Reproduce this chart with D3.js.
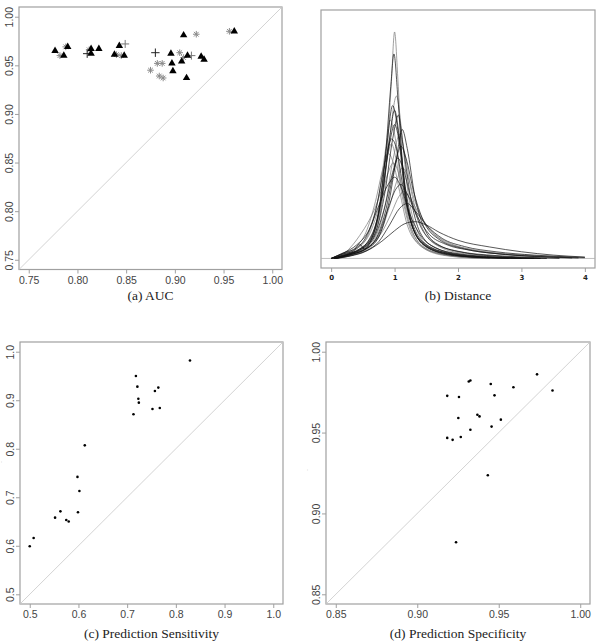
<!DOCTYPE html>
<html>
<head>
<meta charset="utf-8">
<script src="https://cdn.jsdelivr.net/npm/d3@7"></script>
<style>
body { margin: 0; background: #fff; }
</style>
</head>
<body>
<div id="chart"></div>
<script>

// (a) AUC
const aucTriX = [0.777, 0.786, 0.790, 0.814, 0.814, 0.822, 0.843, 0.838, 0.848, 0.909, 0.896, 0.897, 0.898, 0.907, 0.913, 0.912, 0.927, 0.930, 0.961];
const aucTriY = [0.965, 0.960, 0.969, 0.967, 0.962, 0.967, 0.970, 0.961, 0.960, 0.981, 0.962, 0.952, 0.944, 0.954, 0.960, 0.937, 0.959, 0.956, 0.985];
const aucAstX = [0.782, 0.788, 0.812, 0.840, 0.845, 0.875, 0.882, 0.887, 0.884, 0.888, 0.905, 0.909, 0.922, 0.956];
const aucAstY = [0.960, 0.969, 0.966, 0.961, 0.960, 0.945, 0.952, 0.952, 0.939, 0.937, 0.963, 0.958, 0.982, 0.985];
const aucCrossBlackX = [0.810, 0.880];
const aucCrossBlackY = [0.962, 0.963];
const aucCrossGrayX = [0.849, 0.917];
const aucCrossGrayY = [0.972, 0.960];
const aucTicks = [0.75, 0.80, 0.85, 0.90, 0.95, 1.00];

// (b) Distance: density curves, [distance, density] knots
const distBlack = [
  [[0.02,0],[0.2,0.06],[0.4,0.15],[0.6,0.35],[0.75,0.95],[0.86,2.2],[0.94,3.6],[0.99,4.28],[1.05,3.4],[1.13,1.9],[1.25,0.8],[1.45,0.3],[1.8,0.1],[2.4,0.02],[3.2,0]],
  [[0,0],[0.2,0.07],[0.4,0.16],[0.6,0.4],[0.75,1.0],[0.88,2.4],[0.97,3.2],[1.05,2.7],[1.15,1.5],[1.3,0.6],[1.55,0.2],[2.0,0.05],[2.8,0]],
  [[0.05,0],[0.3,0.1],[0.5,0.22],[0.7,0.55],[0.85,1.4],[0.97,2.5],[1.06,3.0],[1.13,2.4],[1.25,1.3],[1.4,0.55],[1.65,0.22],[2.1,0.07],[2.8,0.01],[3.4,0]],
  [[0.03,0],[0.25,0.1],[0.45,0.2],[0.65,0.5],[0.8,1.3],[0.92,2.4],[1.0,2.8],[1.08,2.4],[1.18,1.4],[1.32,0.6],[1.55,0.25],[2.0,0.08],[2.6,0.02],[3.3,0]],
  [[0,0],[0.2,0.12],[0.4,0.22],[0.55,0.45],[0.7,1.0],[0.85,2.0],[0.95,2.5],[1.03,2.3],[1.12,1.6],[1.25,0.8],[1.45,0.32],[1.8,0.12],[2.3,0.03],[3.0,0]],
  [[0.08,0],[0.3,0.08],[0.5,0.17],[0.7,0.4],[0.85,0.95],[1.0,1.9],[1.1,2.35],[1.18,2.1],[1.3,1.4],[1.45,0.8],[1.7,0.4],[2.1,0.2],[2.6,0.1],[3.2,0.04],[3.8,0.01]],
  [[0.05,0],[0.3,0.1],[0.5,0.2],[0.7,0.5],[0.85,1.1],[0.97,1.8],[1.05,2.1],[1.13,1.9],[1.25,1.3],[1.4,0.7],[1.6,0.35],[2.0,0.15],[2.6,0.06],[3.2,0.02],[3.6,0]],
  [[0,0],[0.2,0.12],[0.4,0.28],[0.6,0.6],[0.75,1.1],[0.9,1.55],[1.0,1.7],[1.1,1.5],[1.22,1.0],[1.4,0.5],[1.65,0.22],[2.0,0.1],[2.6,0.03],[3.2,0]],
  [[0.05,0],[0.3,0.05],[0.55,0.15],[0.8,0.36],[1.0,0.58],[1.15,0.72],[1.32,0.77],[1.5,0.7],[1.7,0.55],[2.0,0.38],[2.5,0.24],[3.0,0.14],[3.5,0.07],[4.0,0.03]],
  [[0.05,0],[0.3,0.06],[0.55,0.16],[0.75,0.35],[0.92,0.7],[1.08,1.05],[1.2,1.15],[1.32,1.0],[1.5,0.7],[1.75,0.42],[2.1,0.25],[2.6,0.14],[3.2,0.07],[3.8,0.03],[4.0,0.02]],
  [[0,0],[0.2,0.1],[0.35,0.15],[0.45,0.3],[0.52,0.2],[0.65,0.45],[0.8,1.3],[0.92,2.5],[1.0,3.1],[1.07,2.6],[1.17,1.4],[1.3,0.6],[1.5,0.25],[1.9,0.08],[2.5,0.01]],
  [[0.08,0],[0.35,0.1],[0.55,0.2],[0.75,0.45],[0.9,1.1],[1.03,2.1],[1.12,2.7],[1.2,2.3],[1.32,1.3],[1.48,0.6],[1.7,0.28],[2.1,0.12],[2.7,0.04],[3.3,0]],
  [[0.05,0],[0.3,0.08],[0.55,0.2],[0.75,0.5],[0.9,1.05],[1.02,1.45],[1.1,1.55],[1.2,1.35],[1.35,0.9],[1.55,0.5],[1.8,0.3],[2.2,0.17],[2.7,0.09],[3.3,0.04],[3.9,0.01]]
];
const distGray = [
  [[0,0],[0.2,0.05],[0.4,0.12],[0.6,0.3],[0.75,0.8],[0.87,2.0],[0.95,3.7],[1.0,4.74],[1.05,3.8],[1.12,2.0],[1.25,0.7],[1.45,0.25],[1.8,0.08],[2.4,0.01],[3.0,0]],
  [[0.05,0],[0.25,0.08],[0.45,0.18],[0.65,0.45],[0.8,1.2],[0.92,2.5],[1.03,3.4],[1.1,2.8],[1.2,1.5],[1.35,0.6],[1.6,0.2],[2.0,0.06],[2.6,0.01],[3.2,0]],
  [[0,0],[0.2,0.1],[0.4,0.2],[0.6,0.55],[0.75,1.3],[0.86,2.3],[0.93,2.9],[1.0,2.6],[1.1,1.6],[1.25,0.65],[1.5,0.2],[1.9,0.05],[2.5,0]],
  [[0.05,0],[0.3,0.08],[0.5,0.18],[0.7,0.45],[0.85,1.1],[0.98,2.1],[1.08,2.6],[1.16,2.2],[1.28,1.3],[1.45,0.6],[1.7,0.25],[2.1,0.1],[2.7,0.03],[3.4,0]],
  [[0,0],[0.2,0.1],[0.4,0.25],[0.55,0.55],[0.7,1.2],[0.82,1.9],[0.9,2.2],[0.98,2.0],[1.08,1.4],[1.2,0.7],[1.4,0.28],[1.7,0.1],[2.2,0.02],[2.8,0]],
  [[0.1,0],[0.35,0.08],[0.55,0.18],[0.75,0.45],[0.9,1.0],[1.03,1.6],[1.12,1.9],[1.2,1.75],[1.32,1.2],[1.5,0.7],[1.75,0.38],[2.1,0.22],[2.6,0.12],[3.2,0.06],[3.9,0.02]],
  [[0.1,0],[0.4,0.1],[0.6,0.25],[0.8,0.55],[0.95,0.95],[1.07,1.3],[1.15,1.4],[1.25,1.25],[1.4,0.9],[1.6,0.55],[1.9,0.3],[2.3,0.16],[2.9,0.07],[3.5,0.03],[4.0,0.01]],
  [[0,0],[0.2,0.1],[0.35,0.3],[0.45,0.48],[0.6,0.8],[0.72,1.15],[0.82,1.6],[0.9,2.2],[0.95,2.4],[1.02,2.1],[1.12,1.3],[1.25,0.6],[1.45,0.22],[1.8,0.06],[2.4,0]],
  [[0,0],[0.25,0.12],[0.45,0.25],[0.62,0.55],[0.78,1.2],[0.9,1.8],[0.98,2.0],[1.06,1.8],[1.16,1.2],[1.3,0.6],[1.5,0.26],[1.85,0.1],[2.4,0.03],[3.0,0]]
];
const distTicks = [0, 1, 2, 3, 4];

// (c) Prediction Sensitivity
const sensX = [0.829, 0.718, 0.721, 0.723, 0.724, 0.713, 0.757, 0.764, 0.752, 0.767, 0.613, 0.598, 0.602, 0.599, 0.563, 0.552, 0.575, 0.580, 0.508, 0.500];
const sensY = [0.982, 0.950, 0.928, 0.903, 0.895, 0.871, 0.919, 0.926, 0.882, 0.884, 0.807, 0.742, 0.713, 0.669, 0.671, 0.658, 0.653, 0.650, 0.616, 0.599];
const sensTicks = [0.5, 0.6, 0.7, 0.8, 0.9, 1.0];

// (d) Prediction Specificity
const specX = [0.9735, 0.983, 0.9316, 0.9326, 0.9451, 0.959, 0.9474, 0.9184, 0.9256, 0.9252, 0.9369, 0.9382, 0.9513, 0.9456, 0.9326, 0.9267, 0.9184, 0.9217, 0.9433, 0.9238];
const specY = [0.986, 0.976, 0.9816, 0.9822, 0.980, 0.978, 0.973, 0.9727, 0.972, 0.959, 0.961, 0.960, 0.958, 0.9537, 0.9517, 0.9473, 0.9467, 0.9455, 0.9236, 0.8822];
const specTicks = [0.85, 0.90, 0.95, 1.00];

const width = 597;
const height = 643;
const boxColor = "#a0a0a0";
const sansFont = "'Liberation Sans', Arial, sans-serif";
const serifFont = "'Liberation Serif', 'DejaVu Serif', serif";

const svg = d3.select("#chart")
    .append("svg")
    .attr("width", width)
    .attr("height", height)
    .attr("viewBox", [0, 0, width, height]);

// R style: 4% padding either side of the limits
function padded(lo, hi) {
    const p = (hi - lo) * 0.04;
    return [lo - p, hi + p];
}

function panel(box, xLim, yLim, xTicks, yTicks, fmt, caption, captionY) {
    const g = svg.append("g");
    const x = d3.scaleLinear().domain(padded(xLim[0], xLim[1])).range([box.l, box.r]);
    const y = d3.scaleLinear().domain(padded(yLim[0], yLim[1])).range([box.b, box.t]);

    g.append("rect")
        .attr("x", box.l).attr("y", box.t)
        .attr("width", box.r - box.l).attr("height", box.b - box.t)
        .attr("fill", "none").attr("stroke", boxColor).attr("stroke-width", 1.2);

    const xAxis = d3.axisBottom(x).tickValues(xTicks).tickSize(4).tickPadding(3).tickFormat(fmt);
    g.append("g")
        .attr("transform", `translate(0, ${box.b})`)
        .call(xAxis)
        .call(a => a.select(".domain").remove())
        .call(a => a.selectAll("line").attr("stroke", boxColor))
        .call(a => a.selectAll("text").attr("fill", "#444").attr("font-size", "10.5px")
            .style("font-family", sansFont));

    if (yTicks) {
        const yAxis = d3.axisLeft(y).tickValues(yTicks).tickSize(4).tickFormat(fmt);
        const ya = g.append("g")
            .attr("transform", `translate(${box.l}, 0)`)
            .call(yAxis)
            .call(a => a.select(".domain").remove())
            .call(a => a.selectAll("line").attr("stroke", boxColor));
        ya.selectAll("text")
            .attr("x", null).attr("dy", null)
            .attr("transform", "translate(-6, 0) rotate(-90)")
            .attr("text-anchor", "middle")
            .attr("fill", "#444").attr("font-size", "10.5px")
            .style("font-family", sansFont);
    }

    svg.append("text")
        .attr("x", (box.l + box.r) / 2)
        .attr("y", captionY)
        .attr("text-anchor", "middle")
        .style("font-family", serifFont)
        .attr("font-size", "13.5px")
        .attr("fill", "#222")
        .text(caption);

    return {g, x, y};
}

function diagonal(p, lim) {
    const d = padded(lim[0], lim[1]);
    p.g.append("line")
        .attr("x1", p.x(d[0])).attr("y1", p.y(d[0]))
        .attr("x2", p.x(d[1])).attr("y2", p.y(d[1]))
        .attr("stroke", "#c8c8c8").attr("stroke-width", 0.8);
}

// ---- (a) AUC
const pa = panel({l: 19, r: 282, t: 7, b: 269.5}, [0.75, 1.0], [0.75, 1.0],
    aucTicks, aucTicks, d3.format(".2f"), "(a) AUC", 300);
diagonal(pa, [0.75, 1.0]);

const astPath = r => {
    const d = r * 0.707;
    return `M${-r},0L${r},0M0,${-r}L0,${r}M${-d},${-d}L${d},${d}M${-d},${d}L${d},${-d}`;
};
const crossPath = r => `M${-r},0L${r},0M0,${-r}L0,${r}`;

pa.g.selectAll(".ast")
    .data(d3.zip(aucAstX, aucAstY))
    .enter().append("path")
    .attr("transform", d => `translate(${pa.x(d[0])}, ${pa.y(d[1])})`)
    .attr("d", astPath(3.3))
    .attr("stroke", "#8a8a8a").attr("stroke-width", 1).attr("fill", "none");

pa.g.selectAll(".crossG")
    .data(d3.zip(aucCrossGrayX, aucCrossGrayY))
    .enter().append("path")
    .attr("transform", d => `translate(${pa.x(d[0])}, ${pa.y(d[1])})`)
    .attr("d", crossPath(4))
    .attr("stroke", "#777").attr("stroke-width", 1).attr("fill", "none");

pa.g.selectAll(".crossB")
    .data(d3.zip(aucCrossBlackX, aucCrossBlackY))
    .enter().append("path")
    .attr("transform", d => `translate(${pa.x(d[0])}, ${pa.y(d[1])})`)
    .attr("d", crossPath(4.2))
    .attr("stroke", "#222").attr("stroke-width", 1).attr("fill", "none");

pa.g.selectAll(".tri")
    .data(d3.zip(aucTriX, aucTriY))
    .enter().append("path")
    .attr("transform", d => `translate(${pa.x(d[0])}, ${pa.y(d[1])})`)
    .attr("d", d3.symbol(d3.symbolTriangle, 24))
    .attr("fill", "#000");

// ---- (b) Distance
const pb = panel({l: 321, r: 595, t: 10, b: 268}, [0, 4], [0, 5], distTicks, null,
    d3.format("d"), "(b) Distance", 300);
pb.g.selectAll(".tick text")
    .attr("font-size", "7px").attr("font-weight", "bold").attr("fill", "#222")
    .style("font-family", "'DejaVu Sans', sans-serif");

pb.g.append("line")
    .attr("x1", 321).attr("x2", 595)
    .attr("y1", pb.y(0)).attr("y2", pb.y(0))
    .attr("stroke", "#b0b0b0").attr("stroke-width", 0.8);

const densLine = d3.line()
    .x(d => pb.x(d[0]))
    .y(d => pb.y(d[1]))
    .curve(d3.curveMonotoneX);

pb.g.selectAll(".dg")
    .data(distGray)
    .enter().append("path")
    .attr("d", densLine)
    .attr("fill", "none").attr("stroke", "#777").attr("stroke-width", 0.7);

pb.g.selectAll(".db")
    .data(distBlack)
    .enter().append("path")
    .attr("d", densLine)
    .attr("fill", "none").attr("stroke", "#111").attr("stroke-width", 0.7);

// ---- (c) Prediction Sensitivity
const pc = panel({l: 20, r: 283, t: 342, b: 604}, [0.5, 1.0], [0.5, 1.0],
    sensTicks, sensTicks, d3.format(".1f"), "(c) Prediction Sensitivity", 638);
diagonal(pc, [0.5, 1.0]);
pc.g.selectAll(".pt")
    .data(d3.zip(sensX, sensY))
    .enter().append("circle")
    .attr("cx", d => pc.x(d[0])).attr("cy", d => pc.y(d[1]))
    .attr("r", 1.3).attr("fill", "#000");

// ---- (d) Prediction Specificity
const pd = panel({l: 326, r: 590, t: 342, b: 604}, [0.85, 1.0], [0.85, 1.0],
    specTicks, specTicks, d3.format(".2f"), "(d) Prediction Specificity", 638);
diagonal(pd, [0.85, 1.0]);
pd.g.selectAll(".pt")
    .data(d3.zip(specX, specY))
    .enter().append("circle")
    .attr("cx", d => pd.x(d[0])).attr("cy", d => pd.y(d[1]))
    .attr("r", 1.3).attr("fill", "#000");

// faint y labels left of (c) and (d)
[[3, 462], [309, 470]].forEach(p => {
    svg.append("text")
        .attr("transform", `translate(${p[0]}, ${p[1]}) rotate(-90)`)
        .attr("text-anchor", "middle")
        .attr("font-size", "3px").attr("fill", "#999")
        .text("-");
});
</script>
</body>
</html>
